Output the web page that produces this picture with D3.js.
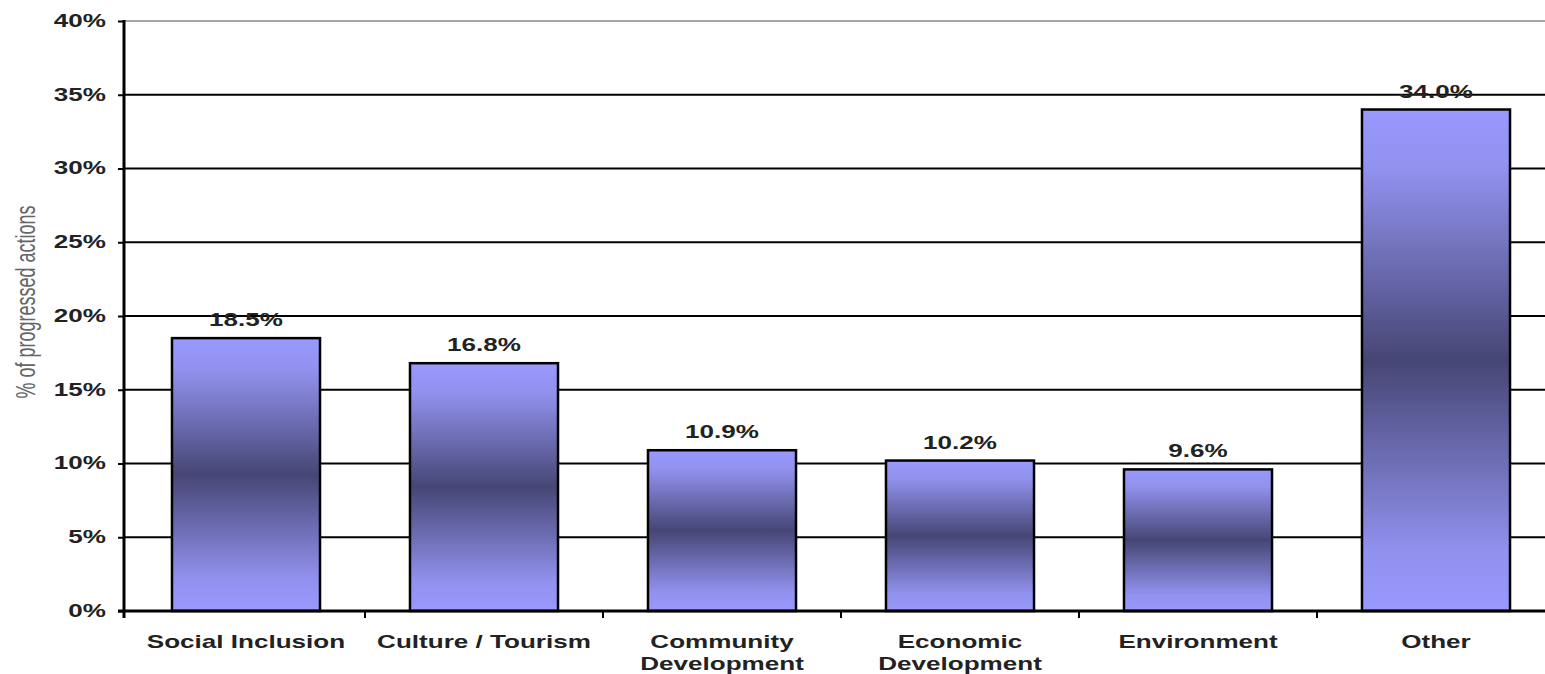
<!DOCTYPE html>
<html>
<head>
<meta charset="utf-8">
<script src="https://cdn.jsdelivr.net/npm/d3@7"></script>
<style>
  body { margin: 0; background: #fff; }
  svg { display: block; font-family: "Liberation Sans", Arial, sans-serif; }
</style>
</head>
<body>
<script>
// chart data
const categories = ["Social Inclusion", "Culture / Tourism", "Community Development", "Economic Development", "Environment", "Other"];
const categoryLines = [["Social Inclusion"], ["Culture / Tourism"], ["Community", "Development"], ["Economic", "Development"], ["Environment"], ["Other"]];
const values = [18.5, 16.8, 10.9, 10.2, 9.6, 34.0];
const valueLabels = ["18.5%", "16.8%", "10.9%", "10.2%", "9.6%", "34.0%"];
const yTicks = [0, 5, 10, 15, 20, 25, 30, 35, 40];

const width = 1545;
const height = 674;
const margin = { top: 21, left: 124, bottom: 62 };

// the original picture is stretched sideways, so text is too
const stretch = 1.49;
const fontSize = 17.5;

const svg = d3.select("body")
  .append("svg")
  .attr("width", width)
  .attr("height", height);

// vertical gradient: light at top and bottom, dark in the middle
const grad = svg.append("defs")
  .append("linearGradient")
  .attr("id", "barGrad")
  .attr("x1", 0).attr("y1", 0).attr("x2", 0).attr("y2", 1);
grad.append("stop").attr("offset", "0%").attr("stop-color", "#9999ff");
grad.append("stop").attr("offset", "12%").attr("stop-color", "#9191ee");
grad.append("stop").attr("offset", "50%").attr("stop-color", "#464675");
grad.append("stop").attr("offset", "88%").attr("stop-color", "#9191ee");
grad.append("stop").attr("offset", "100%").attr("stop-color", "#9999ff");

const yScale = d3.scaleLinear()
  .domain([0, 40])
  .range([height - margin.bottom - 1, margin.top]);

const xScale = d3.scaleBand()
  .domain(categories)
  .range([margin.left + 3, margin.left + 3 + 238 * 6])
  .paddingInner(0.378)
  .paddingOuter(0.189);

const mid = c => xScale(c) + xScale.bandwidth() / 2;

// gridlines
svg.append("g")
  .selectAll("line")
  .data(yTicks.filter(d => d > 0))
  .enter()
  .append("line")
  .attr("x1", margin.left)
  .attr("x2", width)
  .attr("y1", d => yScale(d))
  .attr("y2", d => yScale(d))
  .attr("stroke", d => d === 40 ? "#888" : "#000")
  .attr("stroke-width", d => d === 40 ? 1.5 : 2);

// y axis
const yAxis = d3.axisLeft(yScale)
  .tickValues(yTicks)
  .tickSize(6)
  .tickFormat(d => d + "%");

const gy = svg.append("g")
  .attr("id", "y-axis")
  .attr("transform", `translate(${margin.left}, 0)`)
  .call(yAxis);
gy.select(".domain").remove();
gy.selectAll(".tick line").attr("stroke", "#000").attr("stroke-width", 2);
gy.selectAll(".tick text")
  .attr("x", 0)
  .attr("dy", "0.3em")
  .attr("transform", `translate(-18, 0) scale(${stretch}, 1)`)
  .attr("font-size", fontSize)
  .attr("font-weight", "bold")
  .attr("fill", "#222");

// bars
svg.selectAll(".bar")
  .data(values)
  .enter()
  .append("rect")
  .attr("class", "bar")
  .attr("x", (d, i) => xScale(categories[i]))
  .attr("y", d => yScale(d))
  .attr("width", xScale.bandwidth())
  .attr("height", d => yScale(0) - yScale(d))
  .attr("fill", "url(#barGrad)")
  .attr("stroke", "#000")
  .attr("stroke-width", 2.5);

// value labels
svg.selectAll(".vlabel")
  .data(values)
  .enter()
  .append("text")
  .attr("class", "vlabel")
  .attr("transform", (d, i) => `translate(${mid(categories[i])}, ${yScale(d) - 12}) scale(${stretch}, 1)`)
  .attr("text-anchor", "middle")
  .attr("font-size", fontSize)
  .attr("font-weight", "bold")
  .attr("fill", "#222")
  .text((d, i) => valueLabels[i]);

// axis lines
svg.append("line")
  .attr("x1", margin.left).attr("x2", margin.left)
  .attr("y1", margin.top - 1).attr("y2", yScale(0) + 7)
  .attr("stroke", "#000").attr("stroke-width", 3);
svg.append("line")
  .attr("x1", margin.left - 6).attr("x2", width)
  .attr("y1", yScale(0)).attr("y2", yScale(0))
  .attr("stroke", "#000").attr("stroke-width", 3);

// x ticks between categories
const step = xScale.step();
svg.append("g")
  .selectAll("line")
  .data(d3.range(1, 6))
  .enter()
  .append("line")
  .attr("x1", d => margin.left + 3 + step * d)
  .attr("x2", d => margin.left + 3 + step * d)
  .attr("y1", yScale(0))
  .attr("y2", yScale(0) + 7)
  .attr("stroke", "#000")
  .attr("stroke-width", 2);

// category labels
const xl = svg.selectAll(".xlabel")
  .data(categoryLines)
  .enter()
  .append("text")
  .attr("class", "xlabel")
  .attr("transform", (d, i) => `translate(${mid(categories[i])}, 648) scale(${stretch}, 1)`)
  .attr("text-anchor", "middle")
  .attr("font-size", fontSize)
  .attr("font-weight", "bold")
  .attr("fill", "#222");
xl.selectAll("tspan")
  .data(d => d)
  .enter()
  .append("tspan")
  .attr("x", 0)
  .attr("dy", (d, j) => j === 0 ? 0 : 22)
  .text(d => d);

// y axis title
svg.append("text")
  .attr("transform", `translate(35, 302) scale(${stretch}, 1) rotate(-90)`)
  .attr("text-anchor", "middle")
  .attr("font-size", 18)
  .attr("fill", "#666")
  .text("% of progressed actions");
</script>
</body>
</html>
